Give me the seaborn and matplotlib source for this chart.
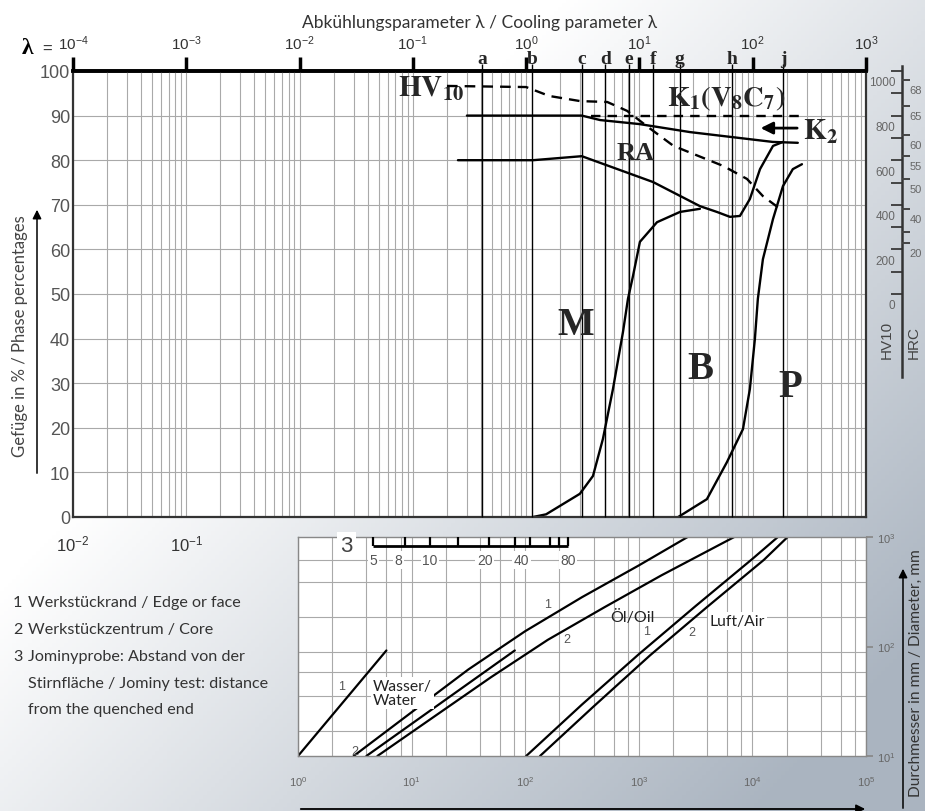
import numpy as np
import matplotlib
matplotlib.use("Agg")
import matplotlib.pyplot as plt
import seaborn as sns
from matplotlib.ticker import LogLocator, NullLocator, FixedLocator, FixedFormatter, NullFormatter
from matplotlib.transforms import ScaledTranslation

# ------------------------------------------------------------------ data
# main chart: cooling parameter lambda vs. phase percentage
decade_exponents = [-4, -3, -2, -1, 0, 1, 2, 3]
bottom_decade_labels = ["$10^{-2}$", "$10^{-1}$", "", "", "", "", "", ""]

line_letters = ["a", "b", "c", "d", "e", "f", "g", "h", "j"]
line_lambda = [0.41, 1.12, 3.1, 5.0, 8.1, 13.2, 22.7, 65, 185]

k_upper_lam = [0.30, 3.1, 4.5, 10, 28, 150, 250]
k_upper_pct = [90, 90, 89, 88.1, 86.3, 84.1, 83.9]
k1_dash_lam = [3.7, 290]
k1_dash_pct = [90, 90]
ra_lower_lam = [0.25, 1.15, 3.1, 13.2, 34.2, 48.3, 62.9, 77.1, 94.4, 116, 151, 185]
ra_lower_pct = [80.0, 80.0, 80.9, 75.1, 69.7, 68.4, 67.3, 67.5, 71.3, 78.0, 83.2, 84.1]
mart_lam = [1.15, 1.5, 2.98, 3.89, 4.76, 5.84, 7.16, 7.92, 8.77, 10.1, 14.3, 22.8, 34.2]
mart_pct = [0.0, 0.6, 5.2, 9.2, 17.5, 28.7, 41.5, 48.9, 54.0, 61.7, 66.1, 68.4, 69.1]
bp_lam = [22.0, 39.4, 59.2, 82, 94.4, 104.5, 111, 123, 151, 185, 226, 272]
bp_pct = [0.0, 4.0, 12.3, 19.7, 28.7, 39.9, 48.9, 57.8, 66.8, 74.2, 78.0, 79.1]
hv_lam = [0.2, 1.0, 1.6, 3.0, 5.2, 7.8, 11.6, 20, 55, 89, 123, 185]
hv_val = [933, 928, 888, 865, 861, 821, 753, 664, 574, 516, 439, 372]

# hardness scale on the right
hv_ticks = [0, 100, 200, 300, 400, 500, 600, 700, 800, 900, 1000]
hv_tick_labels = ["0", "", "200", "", "400", "", "600", "", "800", "", "1000"]
hrc_as_hv = [961, 844, 713, 617, 516, 381, 277, 229]
hrc_labels = ["68", "65", "60", "55", "50", "40", "", "20"]

# bottom chart: cooling time vs. diameter
time_decades = [1, 10, 100, 1000, 10000, 100000]
time_labels = ["$10^{0}$", "$10^{1}$", "$10^{2}$", "$10^{3}$", "$10^{4}$", "$10^{5}$"]
diam_ticks = [10, 100, 1000]
diam_labels = ["$10^{1}$", "$10^{2}$", "$10^{3}$"]
diam_grid = [17, 35, 58, 89, 186, 388, 612]

water1_t = [1.0, 6.0]
water1_d = [10, 92]
water2_t = [4.0, 81]
water2_d = [10, 92]
oil1_t = [3.09, 10, 31.6, 100, 316, 1000, 2690]
oil1_d = [10, 25.1, 61.7, 138, 282, 550, 1000]
oil2_t = [5.0, 15.8, 50.1, 158, 501, 1585, 6920]
oil2_d = [10, 22.9, 52.5, 115, 229, 447, 1000]
air1_t = [102, 316, 1000, 3162, 10000, 16750]
air1_d = [10, 29.5, 85, 234, 631, 1000]
air2_t = [135, 398, 1259, 3981, 12589, 20420]
air2_d = [10, 28.2, 83.2, 229, 617, 1000]

jominy_tick_t = [4.54, 8.73, 14.5, 25.7, 48.2, 81, 110, 165, 199, 238]
jominy_label_t = [4.6, 7.7, 14.5, 44, 93, 238]
jominy_labels = ["5", "8", "10", "20", "40", "80"]

# ------------------------------------------------------------------ style
sns.set_theme(style="white")
plt.rcParams["font.family"] = ["Liberation Sans", "DejaVu Sans"]
plt.rcParams["mathtext.fontset"] = "custom"
plt.rcParams["mathtext.rm"] = "Liberation Sans"
plt.rcParams["mathtext.it"] = "Liberation Sans:italic"
plt.rcParams["mathtext.bf"] = "Liberation Sans:bold"

W, H = 925, 812
fig = plt.figure(figsize=(W / 100, H / 100), dpi=100)


def fx(px):
    return px / W


def fy(py):
    return 1 - py / H


LABEL_FONT = ["Lato", "DejaVu Sans"]
SERIF = ["Liberation Serif", "DejaVu Serif"]

# background (brushed metal-like gradient)
bg = fig.add_axes([0, 0, 1, 1], zorder=-10)
yy, xx = np.mgrid[0:H:4, 0:W:4]
tt = np.clip(0.95 * xx / W + 0.8 * yy / H - 0.58, 0, 1)
dark = np.array([170, 180, 192]) / 255.0
img = (1 - tt[..., None]) * 1.0 + tt[..., None] * dark
bg.imshow(img, extent=[0, 1, 0, 1], aspect="auto", origin="upper")
bg.axis("off")

# ------------------------------------------------------------------ main chart
ax = fig.add_axes([fx(73), fy(518), fx(866) - fx(73), fy(72) - fy(518)])
ax.set_facecolor("white")
ax.set_xscale("log")

decades = [10.0 ** e for e in decade_exponents]


def draw(axis, x, y, **kw):
    kw.setdefault("color", "black")
    kw.setdefault("lw", 1.7)
    sns.lineplot(x=x, y=y, ax=axis, sort=False, estimator=None, **kw)


draw(ax, k_upper_lam, k_upper_pct)
draw(ax, k1_dash_lam, k1_dash_pct, ls=(0, (4, 3)))
draw(ax, ra_lower_lam, ra_lower_pct)
draw(ax, mart_lam, mart_pct)
draw(ax, bp_lam, bp_pct)

ax.set_xlim(1e-4, 1e3)
ax.set_ylim(0, 100)
ax.xaxis.set_major_locator(FixedLocator(decades))
ax.xaxis.set_major_formatter(FixedFormatter(bottom_decade_labels))
ax.xaxis.set_minor_locator(LogLocator(base=10, subs=np.arange(2, 10), numticks=100))
ax.xaxis.set_minor_formatter(NullFormatter())
ax.set_yticks(range(0, 101, 10))
ax.grid(which="both", axis="x", color="#a9a9a9", lw=0.8)
ax.grid(which="major", axis="y", color="#a9a9a9", lw=0.8)
ax.set_axisbelow(True)
ax.tick_params(axis="x", which="both", length=0, pad=12, labelsize=12, labelcolor="#333")
ax.tick_params(axis="y", length=0, pad=2, labelsize=13, labelcolor="#555")
for s in ["left", "bottom", "right"]:
    ax.spines[s].set_color("#333")
    ax.spines[s].set_linewidth(1.6)
ax.spines["top"].set_color("black")
ax.spines["top"].set_linewidth(2.6)

# letter lines a..j
ax.vlines(line_lambda, 0, 101.6, colors="black", lw=1.0, clip_on=False, zorder=3)
for lt, lam in zip(line_letters, line_lambda):
    ax.text(lam, 100.9, lt, ha="center", va="bottom", fontsize=14, family=SERIF,
            weight="bold", clip_on=False)

# top lambda axis
sec = ax.secondary_xaxis("top")
sec.set_xticks(decades)
sec.set_xticklabels([f"$10^{{{e}}}$" for e in decade_exponents])
sec.xaxis.set_minor_locator(NullLocator())
sec.tick_params(axis="x", length=10, width=2.5, color="black", labelsize=11,
                labelcolor="#333", pad=4)
sec.spines["top"].set_color("black")
sec.spines["top"].set_linewidth(2.6)

# region labels
ax.text(0.074, 94.5, r"$\mathbf{HV_{10}}$", math_fontfamily="stix", fontsize=21,
        ha="left", va="baseline")
ax.text(17.4, 92.2, r"$\mathbf{K_1(V_8C_7)}$", math_fontfamily="stix", fontsize=20.5,
        ha="left", va="baseline")
ax.text(277, 84.8, r"$\mathbf{K_2}$", math_fontfamily="stix", fontsize=21,
        ha="left", va="baseline", clip_on=False)
ax.annotate("", xy=(111, 87.2), xytext=(261, 87.2),
            arrowprops=dict(arrowstyle="-|>", color="black", lw=2, mutation_scale=18))
ax.text(6.3, 80.3, "RA", family=SERIF, weight="bold", fontsize=19, ha="left", va="baseline")
ax.text(1.87, 41.0, "M", family=SERIF, weight="bold", fontsize=28, ha="left", va="baseline")
ax.text(26.2, 31.2, "B", family=SERIF, weight="bold", fontsize=28, ha="left", va="baseline")
ax.text(167, 27.1, "P", family=SERIF, weight="bold", fontsize=28, ha="left", va="baseline")

# hardness (HV10) axis and curve
ax_hv = ax.twinx()
ax_hv.set_ylim(-1000, 1000)
draw(ax_hv, hv_lam, hv_val, ls=(0, (4.5, 3)))
ax_hv.set_ylim(-1000, 1000)
for s in ax_hv.spines.values():
    s.set_visible(False)
ax_hv.spines["left"].set_visible(True)
ax_hv.spines["left"].set_position(("axes", 1.045))
ax_hv.spines["left"].set_bounds(-372, 1022)
ax_hv.spines["left"].set_color("#333")
ax_hv.spines["left"].set_linewidth(1.8)
ax_hv.yaxis.tick_left()
ax_hv.set_yticks(hv_ticks)
ax_hv.set_yticklabels(hv_tick_labels)
ax_hv.tick_params(axis="y", direction="out", length=8, width=1.4, color="#444",
                  labelsize=8.5, labelcolor="#666", pad=1)
off_hv = ScaledTranslation(6 / 100, -10 / 100, fig.dpi_scale_trans)
for lb in ax_hv.get_yticklabels():
    lb.set_transform(lb.get_transform() + off_hv)
ax_hv.set_ylabel("")
ax_hv.grid(False)

ax_hrc = ax.twinx()
ax_hrc.set_ylim(-1000, 1000)
for s in ax_hrc.spines.values():
    s.set_visible(False)
ax_hrc.spines["right"].set_position(("axes", 1.045))
ax_hrc.set_yticks(hrc_as_hv)
ax_hrc.set_yticklabels(hrc_labels)
ax_hrc.tick_params(axis="y", direction="out", length=6, width=1.4, color="#444",
                   labelsize=8, labelcolor="#666", pad=0.5)
off_hrc = ScaledTranslation(-1 / 100, -9 / 100, fig.dpi_scale_trans)
for lb in ax_hrc.get_yticklabels():
    lb.set_transform(lb.get_transform() + off_hrc)
ax_hrc.grid(False)

fig.text(fx(887), fy(340), "HV10", rotation=90, ha="center", va="center",
         fontsize=11, color="#444")
fig.text(fx(914), fy(343), "HRC", rotation=90, ha="center", va="center",
         fontsize=11, color="#444")

# titles and axis captions
fig.text(fx(480), fy(23), "Abkühlungsparameter λ / Cooling parameter λ", ha="center",
         va="center", fontsize=12.5, color="#333", family=LABEL_FONT)
fig.text(fx(27), fy(49), "λ", ha="center", va="center", fontsize=17, family=SERIF,
         weight="bold", color="black")
fig.text(fx(47), fy(49), "=", ha="center", va="center", fontsize=12, color="#333")
fig.text(fx(20), fy(336), "Gefüge in % / Phase percentages", rotation=90, ha="center",
         va="center", fontsize=12, color="#444", family=LABEL_FONT)
ax.annotate("", xy=(fx(37), fy(208)), xytext=(fx(37), fy(477)), xycoords="figure fraction",
            textcoords="figure fraction", annotation_clip=False,
            arrowprops=dict(arrowstyle="-|>", color="black", lw=1.1, mutation_scale=13))

# legend text (left bottom)
legend_rows = [
    (603, "1", "Werkstückrand / Edge or face"),
    (630, "2", "Werkstückzentrum / Core"),
    (657, "3", "Jominyprobe: Abstand von der"),
    (684, "", "Stirnfläche / Jominy test: distance"),
    (710, "", "from the quenched end"),
]
for ypx, num, txt in legend_rows:
    if num:
        fig.text(fx(13), fy(ypx), num, ha="left", va="center", fontsize=11.6,
                 color="#333", family=LABEL_FONT)
    fig.text(fx(28), fy(ypx), txt, ha="left", va="center", fontsize=11.6,
             color="#333", family=LABEL_FONT)

# ------------------------------------------------------------------ bottom chart
ax2 = fig.add_axes([fx(298), fy(757), fx(866) - fx(298), fy(538) - fy(757)])
ax2.set_facecolor("white")
ax2.set_xscale("log")
ax2.set_yscale("log")

for tx, dy in [(water1_t, water1_d), (water2_t, water2_d), (oil1_t, oil1_d),
               (oil2_t, oil2_d), (air1_t, air1_d), (air2_t, air2_d)]:
    draw(ax2, tx, dy, lw=1.6)

ax2.set_xlim(1, 1e5)
ax2.set_ylim(10, 1000)
ax2.xaxis.set_major_locator(FixedLocator(time_decades))
ax2.xaxis.set_major_formatter(FixedFormatter(time_labels))
ax2.xaxis.set_minor_locator(LogLocator(base=10, subs=[2, 4, 6, 8], numticks=100))
ax2.xaxis.set_minor_formatter(NullFormatter())
ax2.yaxis.tick_right()
ax2.yaxis.set_major_locator(FixedLocator(diam_ticks))
ax2.yaxis.set_major_formatter(FixedFormatter(diam_labels))
ax2.yaxis.set_minor_locator(FixedLocator(diam_grid))
ax2.yaxis.set_minor_formatter(NullFormatter())
ax2.xaxis.grid(True, which="both", color="#a9a9a9", lw=0.8)
ax2.yaxis.grid(True, which="minor", color="#a9a9a9", lw=0.8)
ax2.yaxis.grid(False, which="major")
ax2.set_axisbelow(True)
ax2.tick_params(axis="x", which="major", length=3, color="#888", labelsize=8,
                labelcolor="#666", pad=10)
ax2.tick_params(axis="x", which="minor", length=3, color="#aaa")
ax2.tick_params(axis="y", which="major", length=5, color="#888", labelsize=8,
                labelcolor="#666", pad=3)
ax2.tick_params(axis="y", which="minor", length=0)
for s in ax2.spines.values():
    s.set_color("#888")
    s.set_linewidth(1.0)

# Jominy distance scale
ax2.hlines(822, jominy_tick_t[0], jominy_tick_t[-1], color="black", lw=2, zorder=4)
ax2.vlines(jominy_tick_t, 822, 1000, color="black", lw=1.6, zorder=4)
for tj, lab in zip(jominy_label_t, jominy_labels):
    ax2.text(tj, 617, lab, ha="center", va="center", fontsize=10, color="#555",
             bbox=dict(boxstyle="square,pad=0.12", fc="white", ec="none"), zorder=5)
ax2.text(2.68, 838, "3", ha="center", va="center", fontsize=16, color="#444",
         bbox=dict(boxstyle="square,pad=0.15", fc="white", ec="none"), zorder=5,
         clip_on=False)

# curve labels
box = dict(boxstyle="square,pad=0.1", fc="white", ec="none")
ax2.text(2.42, 43.9, "1", fontsize=9, color="#555", ha="center", va="center")
ax2.text(3.17, 11.2, "2", fontsize=9, color="#555", ha="center", va="center")
ax2.text(4.57, 37.6, "Wasser/\nWater", fontsize=11.3, color="#222", ha="left",
         va="center", family=LABEL_FONT, bbox=box, linespacing=1.05, zorder=5)
ax2.text(158, 244, "1", fontsize=9, color="#555", ha="center", va="center")
ax2.text(231, 117, "2", fontsize=9, color="#555", ha="center", va="center")
ax2.text(880, 188, "Öl/Oil", fontsize=11.5, color="#222", ha="center", va="center",
         family=LABEL_FONT, zorder=1.5)
ax2.text(1167, 139, "1", fontsize=9, color="#555", ha="center", va="center")
ax2.text(2900, 135, "2", fontsize=9, color="#555", ha="center", va="center")
ax2.text(7400, 171, "Luft/Air", fontsize=11.3, color="#222", ha="center", va="center",
         family=LABEL_FONT, bbox=box, zorder=5)

# right caption of the bottom chart and arrows
fig.text(fx(916), fy(549), "Durchmesser in mm / Diameter, mm", rotation=90, ha="center",
         va="top", fontsize=11.2, color="#333", family=LABEL_FONT)
ax2.annotate("", xy=(fx(903), fy(567)), xytext=(fx(903), fy(812)), xycoords="figure fraction",
             textcoords="figure fraction", annotation_clip=False,
             arrowprops=dict(arrowstyle="-|>", color="black", lw=1.1, mutation_scale=13))
ax2.annotate("", xy=(fx(868), fy(810)), xytext=(fx(298), fy(810)), xycoords="figure fraction",
             textcoords="figure fraction", annotation_clip=False,
             arrowprops=dict(arrowstyle="-|>", color="black", lw=1.3, mutation_scale=13))

fig.savefig("out.png", dpi=100)
